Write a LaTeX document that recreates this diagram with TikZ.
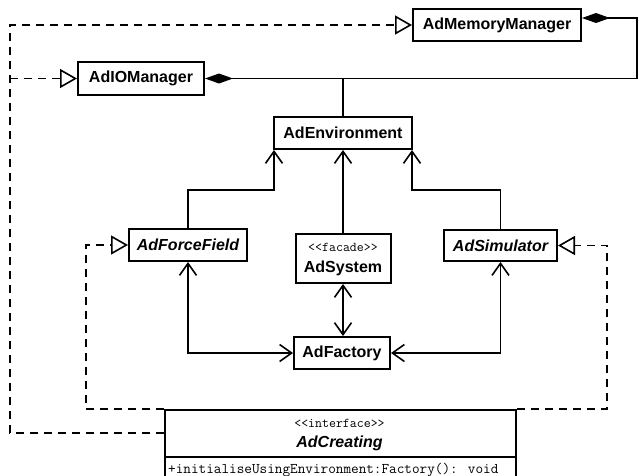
\documentclass[tikz,border=0pt]{standalone}
\usepackage{fontspec}
\setmainfont{Liberation Sans}
\usetikzlibrary{arrows.meta}
\begin{document}
\begin{tikzpicture}[x=1pt,y=-1pt,
  clsbox/.style={draw, line width=2pt, inner sep=0pt,
    font=\fontsize{16}{18}\selectfont\bfseries},
  absbox/.style={clsbox, font=\fontsize{16}{18}\selectfont\bfseries\itshape},
  stereo/.style={inner sep=0pt, font=\fontsize{13.5}{15}\selectfont\ttfamily},
  link/.style={line width=1.6pt},
  barb/.tip={Straight Barb[length=12pt,width=17pt,line width=1.6pt]},
  nav/.style={link, -barb},
  navboth/.style={link, barb-barb},
  realize/.style={line width=1.8pt, dash pattern=on 8pt off 6pt,
    -{Triangle[open,length=17pt,width=19pt,line width=1.6pt]}},
  comp/.style={link, {Diamond[length=28pt,width=10pt]}-},
]
\useasboundingbox (0,0) rectangle (639,475);
\clip (0,0) rectangle (639,475);

% classes
\node[clsbox, minimum width=168pt, minimum height=32pt] (mm) at (497,25) {AdMemoryManager};
\node[clsbox, minimum width=126pt, minimum height=33pt] (io) at (141,78.5) {AdIOManager};
\node[clsbox, minimum width=138pt, minimum height=32pt] (env) at (343,133) {AdEnvironment};
\node[absbox, minimum width=118pt, minimum height=32pt] (ff) at (188,245) {AdForceField};
\node[clsbox, minimum width=95pt, minimum height=49pt] (sys) at (343,258.5) {};
\node[stereo] (sysst) at (343,247) {<<facade>>};
\node[inner sep=0pt, font=\fontsize{16}{18}\selectfont\bfseries] (sysnm) at (343,268) {AdSystem};
\node[absbox, minimum width=113pt, minimum height=31pt] (sim) at (500.5,245.5) {AdSimulator};
\node[clsbox, minimum width=96pt, minimum height=32pt] (fac) at (342,353) {AdFactory};

% interface
\node[draw, line width=2pt, inner sep=0pt, minimum width=351pt, minimum height=100pt,
  anchor=north west] (cr) at (164,409) {};
\draw[line width=1.8pt] ([yshift=-48pt]cr.north west) -- ([yshift=-48pt]cr.north east);
\node[stereo] (crst) at (339.5,423) {<<interface>>};
\node[inner sep=0pt, font=\fontsize{16}{18}\selectfont\bfseries\itshape] (crnm) at (339.5,443) {AdCreating};
\node[inner sep=0pt, anchor=base west, font=\fontsize{14.8}{16}\selectfont\ttfamily] (crop) at (168,473)
  {+initialiseUsingEnvironment:Factory(): void};

% composition
\coordinate (jr) at (637,78.5);
\draw[comp] ([yshift=7pt]mm.east) -| (jr);
\draw[comp] (io.east) -- (jr);
\draw[link] (env.north) -- (env.north |- jr);

% navigations to the environment
\draw[nav] (ff.north) |- ([shift={(1pt,-40pt)}]env.south west) -- ([xshift=1pt]env.south west);
\draw[nav] (sys.north) -- (sys.north |- env.south);
\draw[nav] (sim.north) |- ([shift={(-1pt,-40pt)}]env.south east) -- ([xshift=-1pt]env.south east);

% navigations with the factory
\draw[navboth] (ff.south) |- (fac.west);
\draw[navboth] (sys.south) -- (sys.south |- fac.north);
\draw[navboth] (sim.south) |- (fac.east);

% realizations
\coordinate (crl) at ([yshift=-24pt]cr.north west);
\coordinate (oc) at (10,25);
\draw[realize] (crl) -| (oc) -- (mm.west);
\draw[realize] (oc |- io.west) -- (io.west);
\draw[realize] (cr.north west) -| ([xshift=-42pt]ff.west) -- (ff.west);
\draw[realize] (cr.north east) -| ([xshift=49pt]sim.east) -- (sim.east);
\end{tikzpicture}
\end{document}
